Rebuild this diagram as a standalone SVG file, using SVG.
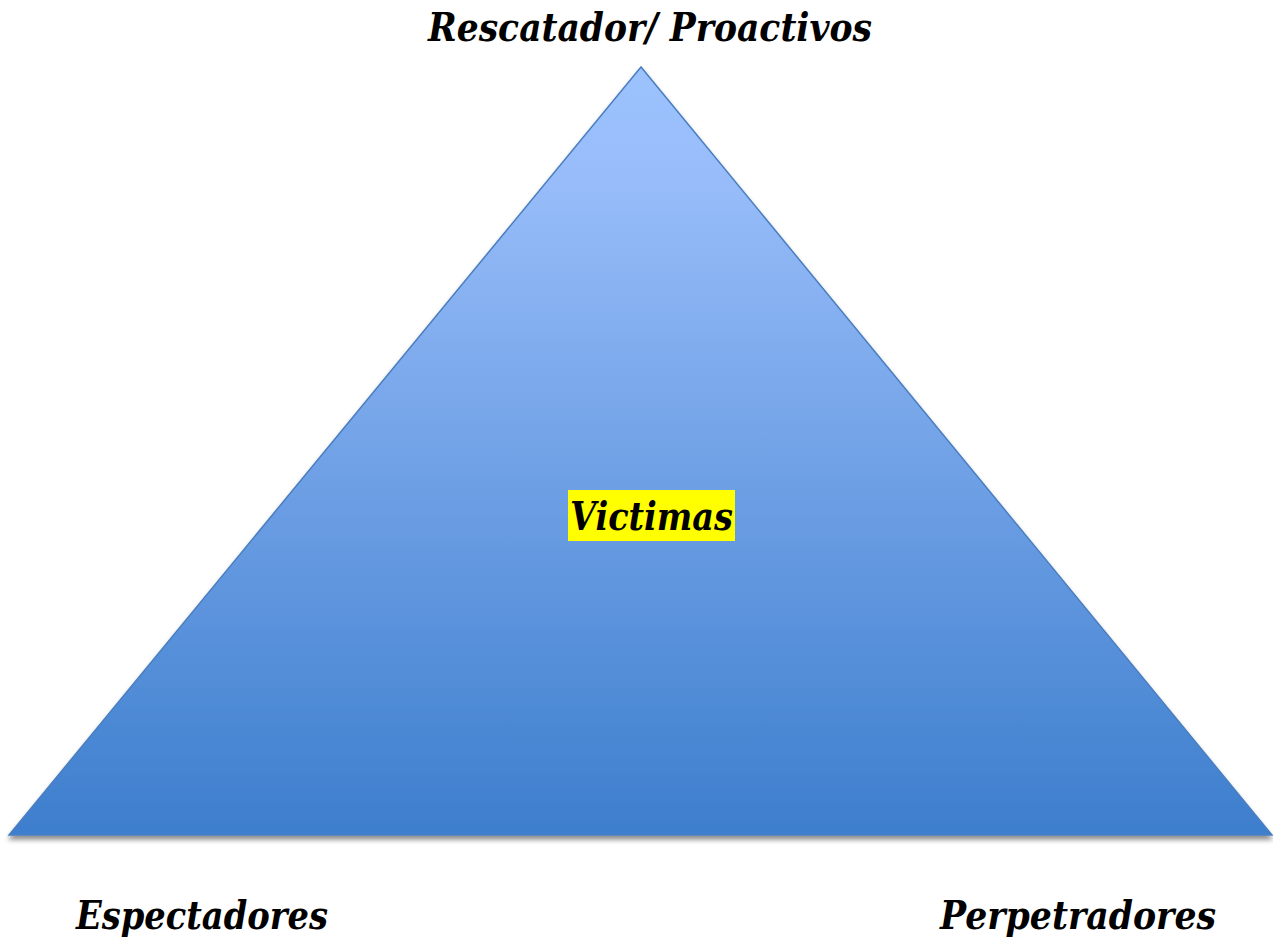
<svg xmlns="http://www.w3.org/2000/svg" width="1273" height="939" viewBox="0 0 1273 939">
<defs>
<linearGradient id="g" x1="0" y1="0" x2="0" y2="1">
<stop offset="0" stop-color="#9DC3FF"/>
<stop offset="0.15" stop-color="#97BCF9"/>
<stop offset="1" stop-color="#3D7ECD"/>
</linearGradient>
<filter id="sh" x="-5%" y="-5%" width="110%" height="115%">
<feGaussianBlur in="SourceAlpha" stdDeviation="2.5"/>
<feOffset dy="4" result="b"/>
<feComponentTransfer><feFuncA type="linear" slope="0.45"/></feComponentTransfer>
<feMerge><feMergeNode/><feMergeNode in="SourceGraphic"/></feMerge>
</filter>
<style>
.t{font-family:"DejaVu Serif","Liberation Serif",serif;font-weight:bold;font-style:italic;font-size:40px;fill:#000}
</style>
</defs>
<rect width="1273" height="939" fill="#fff"/>
<g id="triangle">
<polygon points="641,67 9,835 1272,835" fill="url(#g)" stroke="#4A7EC0" stroke-width="1.5" filter="url(#sh)"/>
</g>
<g id="victimas">
<rect x="568" y="490" width="167" height="51" fill="#FFFF00"/>
<text class="t" x="570" y="530" textLength="163" lengthAdjust="spacingAndGlyphs">Victimas</text>
</g>
<g id="rescatador">
<text class="t" x="428" y="41" textLength="444" lengthAdjust="spacingAndGlyphs">Rescatador/ Proactivos</text>
</g>
<g id="espectadores">
<text class="t" x="76" y="929" textLength="252" lengthAdjust="spacingAndGlyphs">Espectadores</text>
</g>
<g id="perpetradores">
<text class="t" x="940" y="929" textLength="276" lengthAdjust="spacingAndGlyphs">Perpetradores</text>
</g>
<g id="connectors"></g>
</svg>
